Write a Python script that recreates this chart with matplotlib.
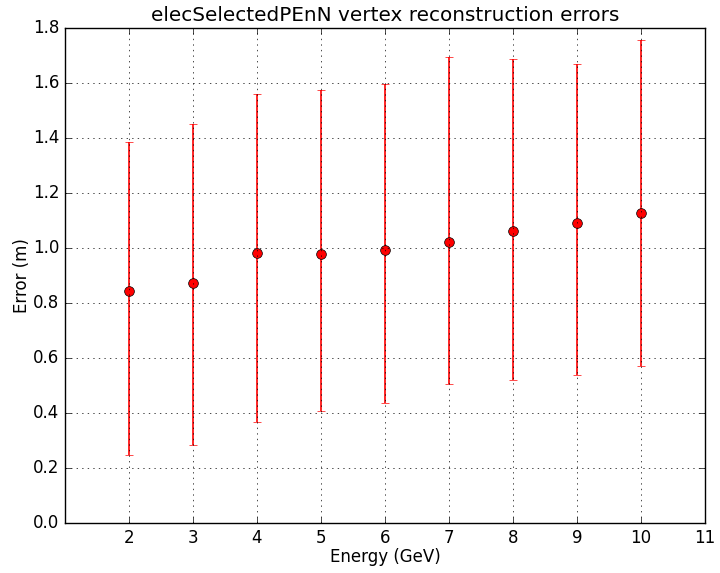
import numpy as np
import matplotlib
matplotlib.use("Agg")
import matplotlib.pyplot as plt

plt.style.use("classic")

# Mean vertex error per energy bin, with lower/upper spread
energy = [2, 3, 4, 5, 6, 7, 8, 9, 10]
error_mean = [0.842, 0.873, 0.983, 0.977, 0.994, 1.023, 1.062, 1.090, 1.126]
error_low = [0.246, 0.282, 0.367, 0.406, 0.438, 0.505, 0.520, 0.537, 0.572]
error_high = [1.387, 1.452, 1.559, 1.573, 1.595, 1.693, 1.687, 1.668, 1.756]

mean = np.array(error_mean)
yerr = [mean - np.array(error_low), np.array(error_high) - mean]

fig = plt.figure(figsize=(7.2, 5.73), dpi=100, facecolor="white")
ax = fig.add_axes([65 / 720, 50 / 573, 640 / 720, 495 / 573])

ax.errorbar(energy, error_mean, yerr=yerr, fmt="o", color="red", ecolor="red",
            mec="black", markersize=7, capsize=3, elinewidth=1.2)

ax.set_xlim(1, 11)
ax.set_ylim(0, 1.8)
ax.set_xticks(range(2, 12))
ax.set_yticks(np.arange(0, 1.81, 0.2))
ax.grid(True)

ax.set_title("elecSelectedPEnN vertex reconstruction errors")
ax.set_xlabel("Energy (GeV)", labelpad=1)
ax.set_ylabel("Error (m)", labelpad=1.5)

fig.savefig("out.png", dpi=100, facecolor="white")
